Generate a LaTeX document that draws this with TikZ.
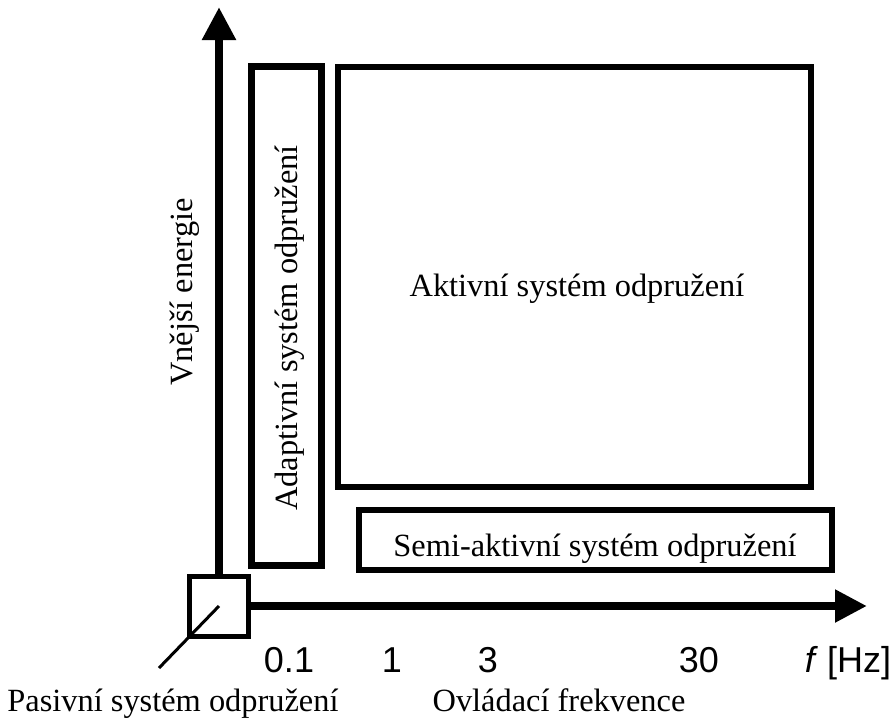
\documentclass[tikz,border=0pt]{standalone}
\usepackage{fontspec}
\setmainfont{Liberation Serif}
\newfontfamily\axisfont{Liberation Sans}
\usetikzlibrary{arrows.meta}

\tikzset{
  box/.style={draw, rectangle, inner sep=0pt, outer sep=0pt},
  axisline/.style={line width=4.2pt},
  seriflabel/.style={font=\fontsize{16.2}{19}\selectfont, inner sep=0pt},
  ticklabel/.style={font=\axisfont\fontsize{18}{21}\selectfont, inner sep=0pt, anchor=base},
}

\begin{document}
\begin{tikzpicture}[x=0.5pt, y=-0.5pt]
  \useasboundingbox (0,0) rectangle (896,720);

  % suspension boxes
  \node[box, line width=3.5pt, minimum width=35pt, minimum height=249.5pt] (adaptive) at (286,315.5) {};
  \node[box, line width=3pt, minimum width=236.75pt, minimum height=210pt] (active) at (574.25,277) {};
  \node[box, line width=3pt, minimum width=236.25pt, minimum height=29.75pt] (semi) at (595.25,539.75) {};
  \node[box, line width=2.5pt, minimum width=29.5pt, minimum height=30pt] (passive) at (219,606) {};

  % axes
  \coordinate (ytip) at (219,7);
  \coordinate (xtip) at (867,606);
  \draw[axisline, -{Triangle[length=16.5pt, width=16pt]}] (passive.north) -- (ytip);
  \draw[axisline, -{Triangle[length=16pt, width=15.5pt]}] (passive.east) -- (xtip);

  % pointer to the passive system label
  \coordinate (pointer) at (159,668);
  \draw[line width=1.5pt] (passive.center) -- (pointer);

  % box labels
  \node[seriflabel, anchor=base] (activetext) at (577,296) {Aktivní systém odpružení};
  \node[seriflabel, anchor=base] (semitext) at (595,556) {Semi-aktivní systém odpružení};
  \node[seriflabel, anchor=base, rotate=90] (adaptivetext) at (297,328) {Adaptivní systém odpružení};

  % axis titles
  \node[seriflabel, anchor=base, rotate=90] (ytitle) at (192,292) {Vnější energie};
  \node[seriflabel, anchor=base west] (passivetext) at (7,711) {Pasivní systém odpružení};
  \node[seriflabel, anchor=base] (xtitle) at (559,711) {Ovládací frekvence};

  % frequency ticks
  \node[ticklabel] (t01) at (289,672) {0.1};
  \node[ticklabel] (t1) at (392,672) {1};
  \node[ticklabel] (t3) at (488,672) {3};
  \node[ticklabel] (t30) at (699,672) {30};
  \node[ticklabel] (unit) at (848,672) {\textit{f}\hspace{0.25em}[Hz]};
\end{tikzpicture}
\end{document}
